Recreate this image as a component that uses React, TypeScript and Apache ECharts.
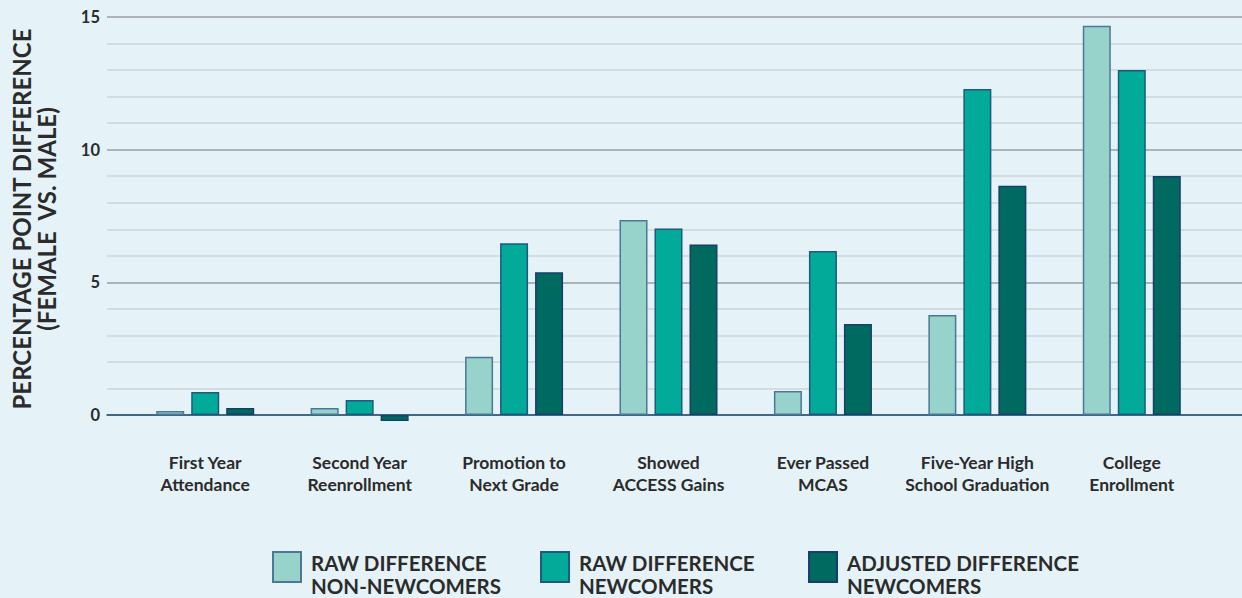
import React, { useEffect, useRef } from "react";
import * as echarts from "echarts";

const categories = [
  "First Year\nAttendance",
  "Second Year\nReenrollment",
  "Promotion to\nNext Grade",
  "Showed\nACCESS Gains",
  "Ever Passed\nMCAS",
  "Five-Year High\nSchool Graduation",
  "College\nEnrollment",
];

const rawNonNewcomers = [0.15, 0.26, 2.2, 7.35, 0.9, 3.77, 14.67];
const rawNewcomers = [0.87, 0.57, 6.47, 7.03, 6.18, 12.29, 13.0];
const adjustedNewcomers = [0.26, -0.23, 5.38, 6.43, 3.43, 8.64, 9.01];

const seriesNames = [
  "RAW DIFFERENCE\nNON-NEWCOMERS",
  "RAW DIFFERENCE\nNEWCOMERS",
  "ADJUSTED DIFFERENCE\nNEWCOMERS",
];

const yTicks = [0, 5, 10, 15];

const FONT = "Lato, 'Open Sans', sans-serif";
const TEXT = "#2b2b2b";
const BG = "#e5f2f7";

// square swatch sitting at the top of a 45px-tall legend row
const LEGEND_ICON = "path://M0 0H28V30H0Z M0 45L0 45";

export default function App() {
  const ref = useRef<HTMLDivElement>(null);

  useEffect(() => {
    if (!ref.current) return;
    const chart = echarts.init(ref.current, undefined, { renderer: "svg" });

    const top = 17;
    const height = 398;

    const bar = (name: string, data: number[], color: string, border: string) => ({
      name,
      type: "bar" as const,
      xAxisIndex: 1,
      yAxisIndex: 1,
      data,
      barWidth: 28,
      barGap: "25%",
      clip: false,
      itemStyle: { color, borderColor: border, borderWidth: 1.5 },
    });

    chart.setOption({
      animation: false,
      backgroundColor: BG,
      textStyle: { fontFamily: FONT },
      grid: [
        { left: 107, right: 0, top, height },
        { left: 128, right: 33, top, height },
      ],
      xAxis: [
        {
          gridIndex: 0,
          type: "value",
          min: 0,
          max: 1,
          axisLine: { show: true, lineStyle: { color: "#1d4f78", width: 1.5 } },
          axisTick: { show: false },
          axisLabel: { show: false },
          splitLine: { show: false },
        },
        {
          gridIndex: 1,
          type: "category",
          data: categories,
          axisLine: { show: false },
          axisTick: { show: false },
          axisLabel: {
            margin: 36,
            color: TEXT,
            fontFamily: FONT,
            fontWeight: "bold",
            fontSize: 17.5,
            lineHeight: 22,
            interval: 0,
          },
        },
      ],
      yAxis: [
        {
          gridIndex: 0,
          type: "value",
          min: yTicks[0],
          max: yTicks[yTicks.length - 1],
          interval: 5,
          axisLine: { show: false },
          axisTick: { show: false },
          axisLabel: {
            margin: 7,
            color: TEXT,
            fontFamily: FONT,
            fontWeight: "bold",
            fontSize: 16.5,
          },
          splitLine: { show: true, lineStyle: { color: "#9a9ea0", width: 1.5 } },
          minorTick: { show: false, splitNumber: 5 },
          minorSplitLine: { show: true, lineStyle: { color: "#cfd4d6", width: 1.5 } },
        },
        {
          gridIndex: 1,
          type: "value",
          min: yTicks[0],
          max: yTicks[yTicks.length - 1],
          show: false,
          splitLine: { show: false },
        },
      ],
      legend: {
        left: 272,
        top: 551,
        padding: 0,
        itemWidth: 28,
        itemHeight: 45,
        itemGap: 39,
        icon: LEGEND_ICON,
        textStyle: {
          color: TEXT,
          fontFamily: FONT,
          fontWeight: "bold",
          fontSize: 20.5,
          lineHeight: 23,
          width: 190,
          overflow: "none",
          padding: [0, 0, 0, 5],
        },
        data: seriesNames,
      },
      graphic: [
        {
          type: "text",
          x: 34,
          y: 219,
          rotation: Math.PI / 2,
          style: {
            text: "PERCENTAGE POINT DIFFERENCE\n(FEMALE  VS. MALE)",
            fill: TEXT,
            font: `bold 24px ${FONT}`,
            lineHeight: 25,
            align: "center",
            verticalAlign: "middle",
          },
        },
      ],
      series: [
        bar(seriesNames[0], rawNonNewcomers, "#97d3cb", "#4a7898"),
        bar(seriesNames[1], rawNewcomers, "#02ab99", "#1d5a7e"),
        bar(seriesNames[2], adjustedNewcomers, "#006a60", "#163f6c"),
      ],
    });

    return () => chart.dispose();
  }, []);

  return (
    <div
      ref={ref}
      style={{ position: "fixed", left: 0, top: 0, width: 1242, height: 598 }}
    />
  );
}
